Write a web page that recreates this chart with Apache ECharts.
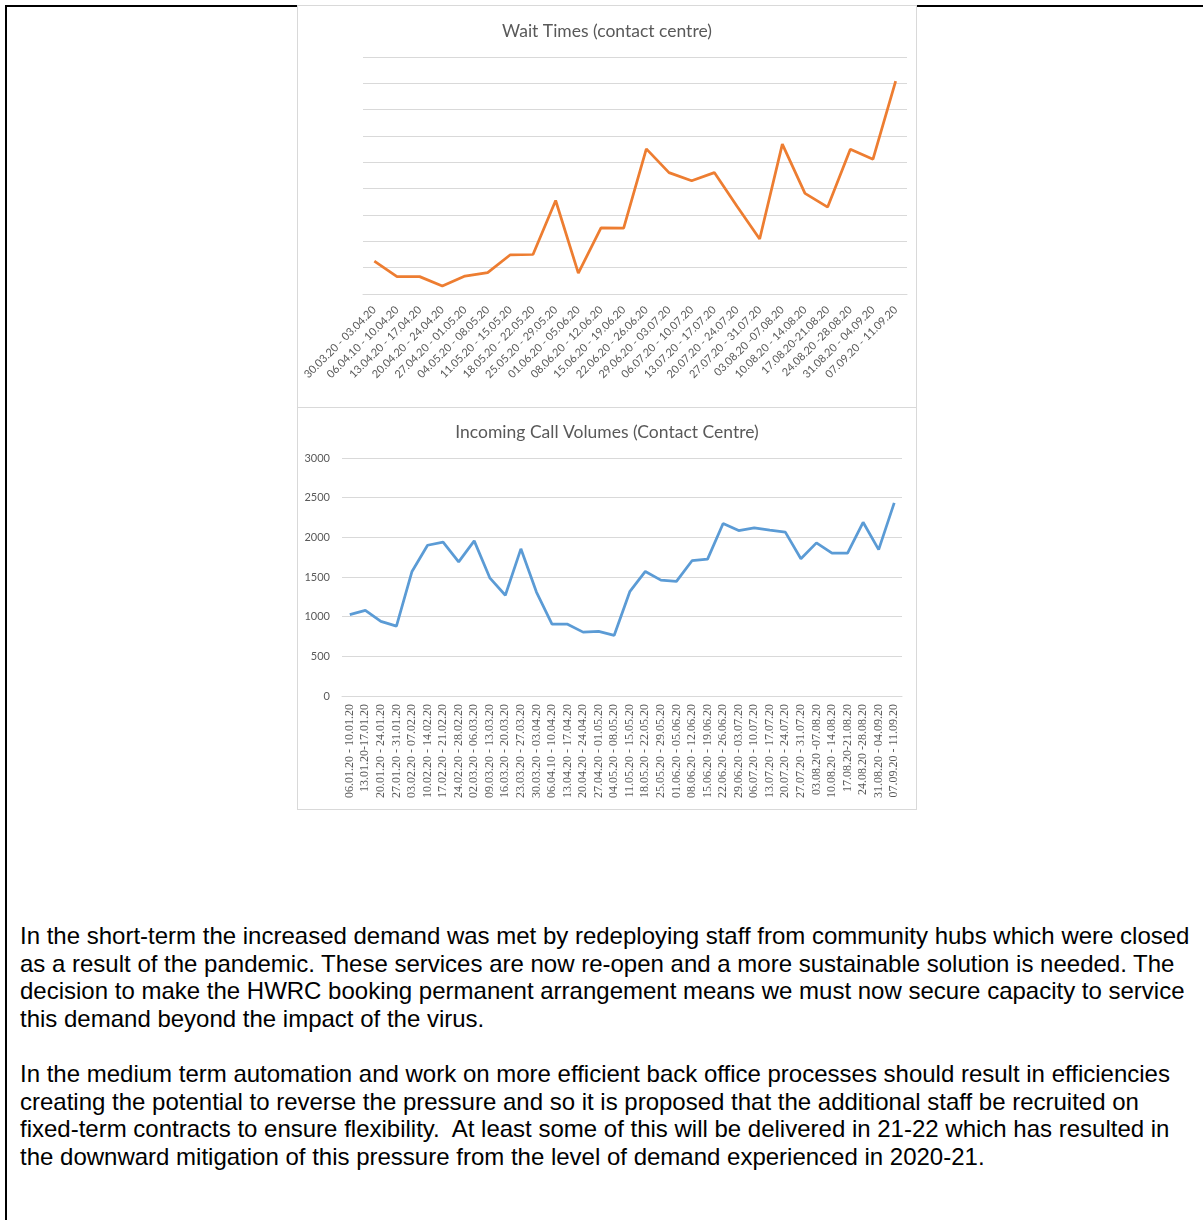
<!DOCTYPE html>
<html>
<head>
<meta charset="utf-8">
<script src="https://cdn.jsdelivr.net/npm/echarts@6/dist/echarts.min.js"></script>
<style>
  html, body { margin: 0; padding: 0; background: #fff; }
  .page { position: relative; width: 1203px; height: 1220px; overflow: hidden; }
  .frame-top { position: absolute; left: 5px; top: 5px; width: 1198px; height: 2px; background: #000; }
  .frame-left { position: absolute; left: 5px; top: 5px; width: 2px; height: 1215px; background: #000; }
  .box { position: absolute; left: 297px; width: 620px; height: 403px; box-sizing: border-box;
         border: 1px solid #d9d9d9; background: #fff; z-index: 2; }
  #waitChart { top: 5px; }
  #callChart { top: 407px; }
  .txt { position: absolute; left: 20px; font-family: "Liberation Sans", Arial, sans-serif;
         font-size: 24px; line-height: 27.5px; color: #000; white-space: pre; }
</style>
</head>
<body>
<div class="page">
  <div class="frame-top"></div>
  <div class="frame-left"></div>
  <div id="waitChart" class="box"></div>
  <div id="callChart" class="box"></div>
  <div class="txt" style="top: 922px;">In the short-term the increased demand was met by redeploying staff from community hubs which were closed
as a result of the pandemic. These services are now re-open and a more sustainable solution is needed. The
decision to make the HWRC booking permanent arrangement means we must now secure capacity to service
this demand beyond the impact of the virus.</div>
  <div class="txt" style="top: 1060px;">In the medium term automation and work on more efficient back office processes should result in efficiencies
creating the potential to reverse the pressure and so it is proposed that the additional staff be recruited on
fixed-term contracts to ensure flexibility.  At least some of this will be delivered in 21-22 which has resulted in
the downward mitigation of this pressure from the level of demand experienced in 2020-21.</div>
</div>

<script>
// weeks for the wait time chart (labels as in the source, typos included)
const waitWeeks = ['30.03.20 - 03.04.20', '06.04.10 - 10.04.20', '13.04.20 - 17.04.20', '20.04.20 - 24.04.20',
  '27.04.20 - 01.05.20', '04.05.20 - 08.05.20', '11.05.20 - 15.05.20', '18.05.20 - 22.05.20',
  '25.05.20 - 29.05.20', '01.06.20 - 05.06.20', '08.06.20 - 12.06.20', '15.06.20 - 19.06.20',
  '22.06.20 - 26.06.20', '29.06.20 - 03.07.20', '06.07.20 - 10.07.20', '13.07.20 - 17.07.20',
  '20.07.20 - 24.07.20', '27.07.20 - 31.07.20', '03.08.20 -07.08.20', '10.08.20 - 14.08.20',
  '17.08.20-21.08.20', '24.08.20 -28.08.20', '31.08.20 - 04.09.20', '07.09.20 - 11.09.20']

// no axis values in the source, read in gridline units
const waitValues = [1.25, 0.66, 0.66, 0.30, 0.68, 0.81, 1.49, 1.50, 3.55, 0.79, 2.51, 2.50,
  5.51, 4.61, 4.30, 4.61, 3.33, 2.09, 5.69, 3.82, 3.30, 5.50, 5.12, 8.08]

const callWeeks = ['06.01.20 - 10.01.20', '13.01.20-17.01.20', '20.01.20 - 24.01.20', '27.01.20 - 31.01.20',
  '03.02.20 - 07.02.20', '10.02.20 - 14.02.20', '17.02.20 - 21.02.20', '24.02.20 - 28.02.20',
  '02.03.20 - 06.03.20', '09.03.20 - 13.03.20', '16.03.20 - 20.03.20', '23.03.20 - 27.03.20',
  '30.03.20 - 03.04.20', '06.04.10 - 10.04.20', '13.04.20 - 17.04.20', '20.04.20 - 24.04.20',
  '27.04.20 - 01.05.20', '04.05.20 - 08.05.20', '11.05.20 - 15.05.20', '18.05.20 - 22.05.20',
  '25.05.20 - 29.05.20', '01.06.20 - 05.06.20', '08.06.20 - 12.06.20', '15.06.20 - 19.06.20',
  '22.06.20 - 26.06.20', '29.06.20 - 03.07.20', '06.07.20 - 10.07.20', '13.07.20 - 17.07.20',
  '20.07.20 - 24.07.20', '27.07.20 - 31.07.20', '03.08.20 -07.08.20', '10.08.20 - 14.08.20',
  '17.08.20-21.08.20', '24.08.20 -28.08.20', '31.08.20 - 04.09.20', '07.09.20 - 11.09.20']

const callValues = [1025, 1080, 940, 880, 1570, 1900, 1940, 1690, 1955, 1490, 1270, 1855,
  1310, 905, 905, 805, 815, 765, 1315, 1570, 1460, 1445, 1705, 1725,
  2175, 2085, 2120, 2090, 2065, 1730, 1930, 1800, 1800, 2190, 1845, 2435]

const grey = '#595959'
const gridGrey = '#d9d9d9'

const waitChart = echarts.init(document.getElementById('waitChart'))
waitChart.setOption({
  animation: false,
  title: {
    text: 'Wait Times (contact centre)',
    left: 'center',
    top: 11,
    textStyle: { fontFamily: 'Lato', fontSize: 17.5, fontWeight: 'normal', color: grey }
  },
  grid: { left: 65, right: 9, top: 51, bottom: 113 },
  xAxis: {
    type: 'category',
    data: waitWeeks,
    axisLine: { lineStyle: { color: gridGrey } },
    axisTick: { show: false },
    axisLabel: { interval: 0, rotate: 45, margin: 14, fontFamily: 'Lato', fontSize: 11, color: grey }
  },
  yAxis: {
    type: 'value',
    min: 0,
    max: 9,
    interval: 1,
    axisLabel: { show: false },
    axisLine: { show: false },
    axisTick: { show: false },
    splitLine: { lineStyle: { color: gridGrey, width: 1 } }
  },
  series: [{
    type: 'line',
    data: waitValues,
    symbol: 'none',
    lineStyle: { color: '#ed7d31', width: 2.75 }
  }]
})

const callChart = echarts.init(document.getElementById('callChart'))
callChart.setOption({
  animation: false,
  title: {
    text: 'Incoming Call Volumes (Contact Centre)',
    left: 'center',
    top: 10,
    textStyle: { fontFamily: 'Lato', fontSize: 17.5, fontWeight: 'normal', color: grey }
  },
  grid: { left: 44, right: 14, top: 50, bottom: 113 },
  xAxis: {
    type: 'category',
    data: callWeeks,
    axisLine: { lineStyle: { color: gridGrey } },
    axisTick: { show: false },
    axisLabel: { interval: 0, rotate: 90, margin: 8, fontFamily: 'Liberation Serif', fontSize: 12, color: grey }
  },
  yAxis: {
    type: 'value',
    min: 0,
    max: 3000,
    interval: 500,
    axisLine: { show: false },
    axisTick: { show: false },
    axisLabel: { margin: 12, fontFamily: 'Lato', fontSize: 11, color: grey, formatter: v => String(v) },
    splitLine: { lineStyle: { color: gridGrey, width: 1 } }
  },
  series: [{
    type: 'line',
    data: callValues,
    symbol: 'none',
    lineStyle: { color: '#5b9bd5', width: 2.75 }
  }]
})
</script>
</body>
</html>
